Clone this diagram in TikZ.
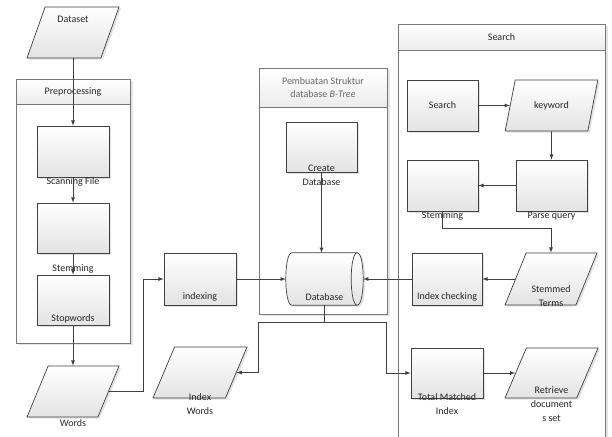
\documentclass[tikz,border=0pt]{standalone}
\usepackage{fontspec}
\setmainfont{Carlito}
\usetikzlibrary{shapes.geometric,shadows}
\definecolor{lingray}{RGB}{64,64,64}
\definecolor{txtgray}{RGB}{38,38,38}
\definecolor{framegray}{RGB}{120,120,120}

\tikzset{
  box/.style={draw=lingray, line width=0.7pt, top color=white, bottom color=gray!22,
    drop shadow={shadow xshift=2pt, shadow yshift=-1.5pt, fill=gray!45}, inner sep=2pt,
    font=\fontsize{10}{14}\selectfont, text=txtgray, align=center},
  proc/.style={box, rectangle, minimum width=#1, minimum height=51pt},
  io/.style={box, trapezium, trapezium left angle=67, trapezium right angle=113,
    trapezium stretches=true, minimum width=#1, minimum height=51pt},
  lbl/.style={anchor=center, font=\fontsize{10}{14}\selectfont, text=txtgray, align=center, inner sep=0pt},
  frame/.style={draw=framegray, line width=0.8pt, fill=white,
    drop shadow={shadow xshift=2.5pt, shadow yshift=-2pt, fill=gray!40}, inner sep=0pt},
  head/.style={draw=framegray, line width=0.8pt, top color=white, bottom color=gray!15,
    font=\fontsize{10}{13}\selectfont, text=txtgray, align=center, inner sep=0pt},
  line/.style={draw=lingray, line width=0.8pt},
}

\begin{document}
\begin{tikzpicture}[x=1pt, y=-1pt]
  \useasboundingbox (0,0) rectangle (612,436);
  % containers
  \node[frame, minimum width=114pt, minimum height=264pt] (pre) at (73,211) {};
  \node[head, minimum width=114pt, minimum height=25pt] (preh) at (73,91.5) {Preprocessing};
  \node[frame, minimum width=128pt, minimum height=246pt] (bt) at (323,191) {};
  \node[head, minimum width=128pt, minimum height=39pt, text=gray!80!black] (bth) at (323,87.5) {Pembuatan Struktur\\database \textit{B-Tree}};
  \node[frame, minimum width=207pt, minimum height=416pt] (sr) at (501.5,232) {};
  \node[head, minimum width=207pt, minimum height=26pt] (srh) at (501.5,37) {Search};

  % preprocessing
  \node[io=92pt, trapezium left angle=72, trapezium right angle=108, label={[lbl,yshift=-13pt]above:Dataset}] (data) at (73,32.5) {};
  \node[proc=72pt, label={[lbl,yshift=-5pt]below:Scanning File}] (scan) at (73,151.5) {};
  \node[proc=72pt, minimum height=50pt, label={[lbl,yshift=-16pt]below:Stemming}] (stem1) at (73,228) {};
  \node[proc=72pt, minimum height=50pt, label={[lbl,yshift=7pt]below:Stopwords}] (stop) at (73,300) {};
  \node[io=92pt, label={[lbl,yshift=-6pt]below:Words}] (words) at (73,391.5) {};

  % indexing and database
  \node[proc=72pt, minimum height=52pt, label={[lbl,yshift=8pt]below:indexing}] (idx) at (200,279) {};
  \node[inner sep=0pt, minimum width=77pt, minimum height=52pt] (db) at (324.5,279) {};
  \path[box] ([xshift=6pt]db.north west) -- ([xshift=-6pt]db.north east)
    .. controls ([xshift=2pt]db.north east) and ([xshift=2pt]db.south east) .. ([xshift=-6pt]db.south east)
    -- ([xshift=6pt]db.south west)
    .. controls ([xshift=-2pt]db.south west) and ([xshift=-2pt]db.north west) .. cycle;
  \draw[draw=lingray, line width=0.7pt] ([xshift=-6pt]db.north east)
    .. controls ([xshift=-14pt]db.north east) and ([xshift=-14pt]db.south east) .. ([xshift=-6pt]db.south east);
  \node[lbl] (dbtext) at ([yshift=8pt]db.south) {Database};
  \node[proc=71pt, minimum height=50pt, label={[lbl,yshift=-3pt]below:Create\\Database}] (create) at (321.5,147) {};
  \node[io=94pt, label={[lbl,yshift=-6pt]below:Index\\Words}] (iw) at (200,372.5) {};

  % search
  \node[proc=71pt] (sbox) at (442.5,105.5) {Search};
  \node[io=93pt] (kw) at (551.5,105.5) {keyword};
  \node[proc=71pt, label={[lbl,yshift=-5pt]below:Parse query}] (parse) at (551.5,185.5) {};
  \node[proc=71pt, label={[lbl,yshift=-5pt]below:Stemming}] (stem2) at (442.5,185.5) {};
  \node[io=92pt, minimum height=52pt, label={[lbl,yshift=9pt]below:Stemmed\\Terms}] (st) at (551,279) {};
  \node[proc=70pt, minimum height=52pt, label={[lbl,yshift=8pt]below:Index checking}] (chk) at (447,279) {};
  \node[proc=72pt, minimum height=50pt, label={[lbl,yshift=-6pt]below:Total Matched\\Index}] (tot) at (447,373) {};
  \node[io=93pt, minimum height=50pt, label={[lbl,yshift=-6pt]below:Retrieve\\document\\s set}] (ret) at (551.5,373) {};

  % connectors
  \draw[line, -latex] (data.south) -- (scan.north);
  \draw[line, -latex] (scan) -- (stem1);
  \draw[line, -latex] (stem1) -- (stop);
  \draw[line, -latex] (stop) -- (words);
  \draw[line, -latex] (words.east) -| ([xshift=-20pt]idx.west) -- (idx.west);
  \draw[line, -latex] (idx.east) -- (db.west);
  \draw[line, -latex] (create.south) -- (create.south |- db.north);
  \draw[line, -latex] (db.south) -- ++(0,17) -| ([xshift=21.5pt]iw.east) -- (iw.east);
  \draw[line, -latex] (db.south) -- ++(0,17) -| ([xshift=-24pt]tot.west) -- (tot.west);
  \draw[line, -latex] (sbox) -- (kw);
  \draw[line, -latex] (kw.south) -- (parse.north);
  \draw[line, -latex] (parse) -- (stem2);
  \draw[line, -latex] (stem2.south) -- ++(0,17) -| (st.north);
  \draw[line, -latex] (st) -- (chk);
  \draw[line, -latex] (chk) -- (db.east);
  \draw[line, -latex] (tot) -- (ret);
\end{tikzpicture}
\end{document}
